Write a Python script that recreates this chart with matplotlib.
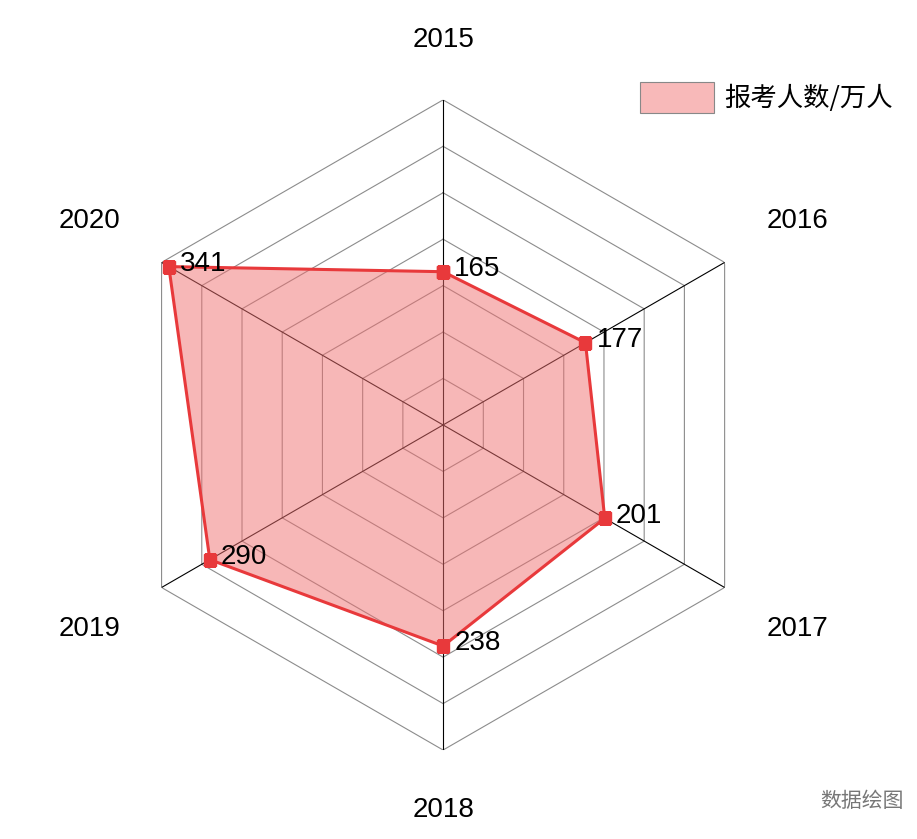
import numpy as np
import matplotlib
matplotlib.use("Agg")
import matplotlib.pyplot as plt
from matplotlib.patches import Patch

years = ["2015", "2016", "2017", "2018", "2019", "2020"]
values = [165, 177, 201, 238, 290, 341]
ring_levels = [50, 100, 150, 200, 250, 300, 350]

plt.rcParams['font.family'] = ['Liberation Sans', 'Noto Sans CJK SC', 'DejaVu Sans']

fig = plt.figure(figsize=(9.17, 8.39), dpi=100)
ax = fig.add_axes([0.1287, 0.106, 0.709, 0.775], projection='polar')
ax.set_theta_zero_location('N')
ax.set_theta_direction(-1)
ax.set_ylim(0, 350)
ax.grid(False)
ax.spines['polar'].set_visible(False)
ax.set_xticks([]); ax.set_yticks([])
ax.patch.set_alpha(0)

n = len(years)
ang = np.arange(n) * 2 * np.pi / n
ang_c = np.append(ang, ang[0])

for lv in ring_levels:
    ax.plot(ang_c, [lv] * (n + 1), color='#8c8c8c', lw=0.8, zorder=1)
for a in ang:
    ax.plot([a, a], [0, ring_levels[-1]], color='black', lw=0.8, zorder=1)

vals_c = np.append(values, values[0])
ax.fill(ang_c, vals_c, color='#f07070', alpha=0.5, lw=0, zorder=2)
ax.plot(ang_c, vals_c, color='#e8393b', lw=2.2, marker='s', markersize=8, zorder=3)

for a, v in zip(ang, values):
    ax.annotate(str(v), (a, v), xytext=(8, 2), textcoords='offset points',
                ha='left', va='center', fontsize=20, color='black', zorder=4)
for i, (a, y) in enumerate(zip(ang, years)):
    r = 415 if i in (0, 3) else 440
    ax.text(a, r, y, ha='center', va='center', fontsize=20, color='black')

leg = fig.legend(handles=[Patch(facecolor='#f8b9b9', edgecolor='#888888', lw=0.8, label='报考人数/万人')],
                 loc='upper right', bbox_to_anchor=(1.0, 0.93), frameon=False,
                 prop={'family': ['Noto Sans CJK SC'], 'size': 19},
                 handlelength=2.8, handleheight=1.4, handletextpad=0.4)

fig.text(0.985, 0.045, '数据绘图', ha='right', va='center', fontsize=15, color='#777777',
         family=['Noto Sans CJK SC'])

fig.savefig('out.png', dpi=100)
